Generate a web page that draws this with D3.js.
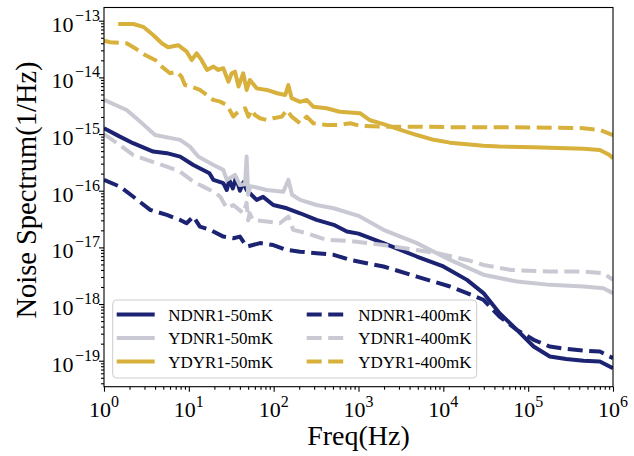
<!DOCTYPE html>
<html>
<head>
<meta charset="utf-8">
<script src="https://cdn.jsdelivr.net/npm/d3@7"></script>
<style>
body { margin: 0; background: #fff; }
text, tspan { font-family: "Liberation Serif", "DejaVu Serif", serif; fill: #000; }
</style>
</head>
<body>
<svg class="chart"></svg>
<script>
// series: [freq (Hz), noise spectrum (1/Hz)]
var ndnr50 = [[1,1.27e-15],[1.54,9.0e-16],[2.2,6.9e-16],[3.8,4.9e-16],[5.5,4.6e-16],[7.9,4.0e-16],[11.3,2.85e-16],[17.5,2.04e-16],[19.5,1.55e-16],[25.5,1.36e-16],[28,1.03e-16],[30,1.55e-16],[33,1.1e-16],[36,1.7e-16],[40,1.0e-16],[44,1.4e-16],[48,1.03e-16],[63,6.9e-17],[75,7.8e-17],[99,5.6e-17],[143,4.9e-17],[205,4.0e-17],[320,3.05e-17],[510,2.5e-17],[730,1.9e-17],[1000,1.75e-17],[1970,1.19e-17],[4870,6.9e-18],[10000,4.6e-18],[19000,2.67e-18],[29700,1.56e-18],[46000,6.9e-19],[73600,3.5e-19],[116000,1.78e-19],[180000,1.19e-19],[280000,1.07e-19],[450000,1.0e-19],[700000,9.7e-20],[1000000,7.4e-20]];
var ydnr50 = [[1,4.0e-15],[1.85,2.66e-15],[2.66,1.66e-15],[4.0,9.6e-16],[7.9,7.9e-16],[10.3,6.0e-16],[12.9,4.0e-16],[19.5,2.85e-16],[25.5,2.33e-16],[28,1.55e-16],[35,1.9e-16],[40,1.26e-16],[46,1.3e-16],[48,4.0e-16],[50,8.5e-17],[53,1.2e-16],[57,1.18e-16],[83,1.03e-16],[130,9.6e-17],[149,1.55e-16],[165,8.5e-17],[205,6.9e-17],[320,5.6e-17],[510,4.9e-17],[1000,3.6e-17],[1970,2.04e-17],[4870,1.19e-17],[12000,6.0e-18],[29700,3.3e-18],[73600,2.5e-18],[180000,2.18e-18],[450000,2.04e-18],[770000,1.9e-18],[1000000,1.56e-18]];
var ydyr50 = [[1.47,8.75e-14],[2.22,8.75e-14],[2.9,7.8e-14],[3.8,5.6e-14],[4.8,4.0e-14],[5.7,3.4e-14],[7.5,3.7e-14],[9.45,2.84e-14],[10.8,2.03e-14],[12.4,2.66e-14],[14.1,2.03e-14],[16.4,1.35e-14],[19.5,1.55e-14],[22.3,1.35e-14],[25.5,1.45e-14],[29.3,8.4e-15],[32,1.18e-14],[35,1.26e-14],[38.5,6.9e-15],[43.8,1.18e-14],[48,6.0e-15],[52.5,9.0e-15],[63,6.4e-15],[83,6.0e-15],[110,5.25e-15],[137,4.9e-15],[149,7.3e-15],[163,4.3e-15],[205,3.7e-15],[245,4.0e-15],[293,3.04e-15],[420,2.85e-15],[600,2.48e-15],[1040,2.33e-15],[1370,1.75e-15],[1970,1.5e-15],[3070,1.2e-15],[4870,9.6e-16],[7700,7.9e-16],[12000,7.05e-16],[19000,6.6e-16],[29700,6.2e-16],[46000,6.0e-16],[116000,5.85e-16],[280000,5.6e-16],[450000,5.5e-16],[700000,5.25e-16],[900000,4.3e-16],[1000000,3.74e-16]];
var ndnr400 = [[1,1.55e-16],[1.54,1.18e-16],[2.2,7.9e-17],[3.5,4.6e-17],[5.5,3.74e-17],[7.9,3.05e-17],[9.4,2.67e-17],[11.3,3.5e-17],[13.5,2.33e-17],[17.8,2.04e-17],[25.5,1.55e-17],[33.5,1.45e-17],[40,1.55e-17],[48,1.03e-17],[69,1.19e-17],[99,1.1e-17],[143,9.0e-18],[205,8.4e-18],[320,7.9e-18],[510,7.4e-18],[800,6.0e-18],[1970,4.6e-18],[4870,3.05e-18],[12000,2.04e-18],[19000,1.56e-18],[29700,1.19e-18],[46000,6.0e-19],[73600,3.5e-19],[116000,2.34e-19],[180000,1.78e-19],[280000,1.62e-19],[450000,1.51e-19],[700000,1.45e-19],[1000000,1.11e-19]];
var ydnr400 = [[1,1.0e-15],[1.54,6.4e-16],[2.2,4.3e-16],[3.2,3.5e-16],[5.5,2.66e-16],[7.9,2.17e-16],[11.3,1.45e-16],[14.8,1.18e-16],[19.5,9.6e-17],[23.4,7.9e-17],[28,4.9e-17],[33.5,5.6e-17],[44,4.0e-17],[48,6.1e-17],[50,3.0e-17],[52,4.0e-17],[57,3.05e-17],[83,2.85e-17],[118,2.67e-17],[149,3.5e-17],[170,2.04e-17],[245,1.78e-17],[420,1.36e-17],[800,1.3e-17],[1970,1.1e-17],[4870,9.0e-18],[8500,7.9e-18],[19000,6.0e-18],[29700,4.9e-18],[62000,4.0e-18],[180000,3.74e-18],[450000,3.74e-18],[770000,3.5e-18],[1000000,2.67e-18]];
var ydyr400 = [[1,4.44e-14],[1.18,4.16e-14],[1.85,4.0e-14],[2.43,3.13e-14],[3.05,2.48e-14],[4.0,2.03e-14],[4.8,1.55e-14],[6.0,1.18e-14],[7.2,1.26e-14],[8.2,1.03e-14],[9.0,7.35e-15],[10.8,6.85e-15],[13.5,6.0e-15],[16.3,4.9e-15],[19.4,4.0e-15],[23.4,3.73e-15],[28,3.26e-15],[33.5,2.03e-15],[36.6,2.33e-15],[42,2.66e-15],[46,2.85e-15],[50.5,2.03e-15],[55,2.66e-15],[60,2.17e-15],[69,1.9e-15],[83,1.77e-15],[99,1.9e-15],[125,2.03e-15],[143,2.66e-15],[163,2.03e-15],[205,1.55e-15],[245,2.03e-15],[293,1.55e-15],[420,1.45e-15],[600,1.45e-15],[800,1.55e-15],[1040,1.4e-15],[1970,1.35e-15],[4870,1.35e-15],[12000,1.32e-15],[73600,1.32e-15],[450000,1.27e-15],[700000,1.18e-15],[1000000,9.6e-16]];

var seriesNames = ["NDNR1-50mK", "YDNR1-50mK", "YDYR1-50mK", "NDNR1-400mK", "YDNR1-400mK", "YDYR1-400mK"];
var seriesData = [ndnr50, ydnr50, ydyr50, ndnr400, ydnr400, ydyr400];
var seriesColors = ["#1b2372", "#c8c9d3", "#d7b13b", "#1b2372", "#c8c9d3", "#d7b13b"];
var seriesDashed = [false, false, false, true, true, true];

var xTicks = [1, 10, 100, 1e3, 1e4, 1e5, 1e6];
var xTickExp = ["0", "1", "2", "3", "4", "5", "6"];
var yTicks = [1e-19, 1e-18, 1e-17, 1e-16, 1e-15, 1e-14, 1e-13];
var yTickExp = ["\u221219", "\u221218", "\u221217", "\u221216", "\u221215", "\u221214", "\u221213"];

var serif = "'Liberation Serif', 'DejaVu Serif', serif";

// Set up the dimensions of the chart
var width = 509;
var height = 379.2;
var padding = { top: 7.5, right: 21, bottom: 69.3, left: 104 };

var svg = d3.select(".chart")
  .attr("width", width + padding.left + padding.right)
  .attr("height", height + padding.top + padding.bottom);

var chartArea = svg.append("g")
  .attr("transform", "translate(" + padding.left + "," + padding.top + ")");

// log scales
var x = d3.scaleLog().domain([1, 1e6]).range([0, width]);
var y = d3.scaleLog().domain([3.48e-20, 1.71e-13]).range([height, 0]);

// minor tick positions (2..9 in every decade)
function minors(lo, hi) {
  var out = [];
  for (var e = lo; e < hi; e++) {
    for (var k = 2; k <= 9; k++) {
      out.push(k * Math.pow(10, e));
    }
  }
  return out;
}
var xMinor = minors(0, 6);
var yMinor = minors(-20, -13).filter(function(v) { return v >= 3.48e-20 && v <= 1.71e-13; });

svg.append("defs").append("clipPath").attr("id", "clip")
  .append("rect").attr("width", width).attr("height", height);

// Add the lines
var line = d3.line()
  .x(function(d) { return x(d[0]); })
  .y(function(d) { return y(d[1]); });

var lines = chartArea.append("g").attr("clip-path", "url(#clip)");
seriesData.forEach(function(data, i) {
  lines.append("path")
    .datum(data)
    .attr("fill", "none")
    .attr("stroke", seriesColors[i])
    .attr("stroke-width", 4)
    .attr("stroke-linejoin", "round")
    .attr("stroke-dasharray", seriesDashed[i] ? "15,6.5" : null)
    .attr("d", line);
});

// Add the axes (ticks only, labels drawn below)
function styleAxis(g) {
  g.select(".domain").remove();
  g.selectAll("line").attr("stroke", "#000").attr("stroke-width", 1.1);
}
chartArea.append("g")
  .attr("transform", "translate(0," + height + ")")
  .call(d3.axisBottom(x).tickValues(xTicks).tickSize(5).tickFormat(""))
  .call(styleAxis);
chartArea.append("g")
  .attr("transform", "translate(0," + height + ")")
  .call(d3.axisBottom(x).tickValues(xMinor).tickSize(3).tickFormat(""))
  .call(styleAxis);
chartArea.append("g")
  .call(d3.axisLeft(y).tickValues(yTicks).tickSize(5).tickFormat(""))
  .call(styleAxis);
chartArea.append("g")
  .call(d3.axisLeft(y).tickValues(yMinor).tickSize(3).tickFormat(""))
  .call(styleAxis);

// frame
chartArea.append("rect")
  .attr("width", width)
  .attr("height", height)
  .attr("fill", "none")
  .attr("stroke", "#000")
  .attr("stroke-width", 1.1);

// tick labels 10^n
var xl = chartArea.selectAll(".xlab")
  .data(xTicks)
  .enter().append("text")
  .attr("class", "xlab")
  .attr("font-family", serif)
  .attr("x", function(d) { return x(d); })
  .attr("y", height + 30)
  .attr("text-anchor", "middle");
xl.append("tspan").attr("font-family", serif).style("font-size", "22px").text("10");
xl.append("tspan").attr("font-family", serif).attr("dy", -10).style("font-size", "16px").text(function(d, i) { return xTickExp[i]; });

var yl = chartArea.selectAll(".ylab")
  .data(yTicks)
  .enter().append("text")
  .attr("class", "ylab")
  .attr("font-family", serif)
  .attr("x", -4)
  .attr("y", function(d) { return y(d) + 11; })
  .attr("text-anchor", "end");
yl.append("tspan").attr("font-family", serif).style("font-size", "22px").text("10");
yl.append("tspan").attr("font-family", serif).attr("dy", -11).attr("dx", 1.5).style("font-size", "16px").text(function(d, i) { return yTickExp[i]; });

// axis labels
chartArea.append("text")
  .attr("font-family", serif)
  .attr("x", width / 2)
  .attr("y", height + 58)
  .attr("text-anchor", "middle")
  .style("font-size", "28px")
  .text("Freq(Hz)");

chartArea.append("text")
  .attr("font-family", serif)
  .attr("transform", "translate(" + (36 - padding.left) + "," + (190 - padding.top) + ") rotate(-90)")
  .attr("text-anchor", "middle")
  .style("font-size", "28.5px")
  .text("Noise Spectrum(1/Hz)");

// Add the legend
var legend = svg.append("g");
legend.append("rect")
  .attr("x", 112.7)
  .attr("y", 300)
  .attr("width", 364)
  .attr("height", 78)
  .attr("rx", 4)
  .attr("fill", "#fff")
  .attr("fill-opacity", 0.8)
  .attr("stroke", "#cccccc")
  .attr("stroke-width", 1);

var colX = [116.7, 306.7];
var rowY = [314.5, 338, 361.5];
seriesNames.forEach(function(name, i) {
  var cx = colX[Math.floor(i / 3)];
  var cy = rowY[i % 3];
  legend.append("line")
    .attr("x1", cx).attr("x2", cx + 38)
    .attr("y1", cy).attr("y2", cy)
    .attr("stroke", seriesColors[i])
    .attr("stroke-width", 4)
    .attr("stroke-dasharray", seriesDashed[i] ? "15,6.5" : null);
  legend.append("text")
    .attr("font-family", serif)
    .attr("x", cx + 51.5)
    .attr("y", cy + 6)
    .style("font-size", "17px")
    .text(name);
});
</script>
</body>
</html>
